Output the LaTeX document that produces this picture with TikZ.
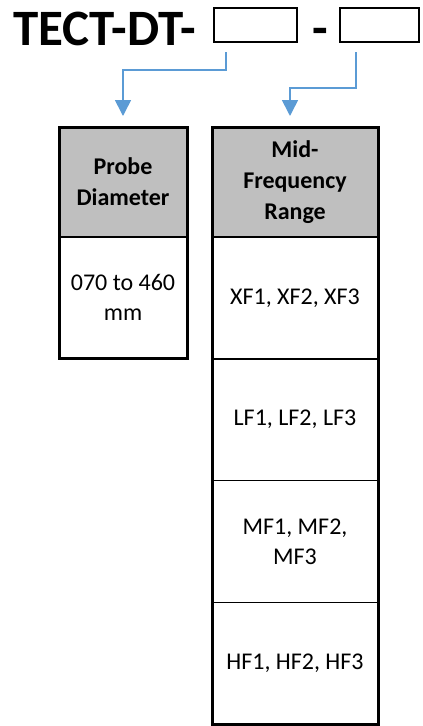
\documentclass[tikz,border=0pt]{standalone}
\usepackage{fontspec}
\setmainfont{Carlito}
\usetikzlibrary{arrows.meta,positioning}
\definecolor{feedblue}{HTML}{5B9BD5}
\definecolor{headgray}{HTML}{BFBFBF}
\begin{document}
\begin{tikzpicture}[x=1pt, y=-1pt,
  slotbox/.style={draw, line width=2pt, minimum width=83pt, minimum height=34pt, inner sep=0pt},
  cell/.style={draw, line width=1.5pt, outer sep=0pt, inner sep=2pt, align=center, font=\fontsize{24}{30}\selectfont},
  headcell/.style={cell, fill=headgray, minimum height=110pt, font=\bfseries\fontsize{24}{31}\selectfont},
  feed/.style={feedblue, line width=1.6pt, -{Triangle[length=16pt,width=16pt]}}]
\useasboundingbox (0,0) rectangle (423,726);
\node[anchor=base west, inner sep=0pt, font=\bfseries\fontsize{51}{55}\selectfont] (code) at (13,45) {TECT-DT-};
\node[slotbox] (slotA) at (255.5,25) {};
\node[anchor=base, inner sep=0pt, font=\bfseries\fontsize{51}{55}\selectfont] (dash) at (320,45) {-};
\node[slotbox, minimum width=79pt] (slotB) at (379.5,25) {};
\node[headcell, minimum width=128pt] (probeHead) at (123,182) {Probe\\Diameter};
\node[cell, minimum width=128pt, minimum height=121pt, below=0pt of probeHead] (probeBody) {070 to 460\\mm};
\node[headcell, minimum width=166pt] (freqHead) at (295,182) {Mid-\\Frequency\\Range};
\node[cell, minimum width=166pt, minimum height=121.75pt, below=0pt of freqHead] (freqX) {XF1, XF2, XF3};
\node[cell, minimum width=166pt, minimum height=121.75pt, below=0pt of freqX] (freqL) {LF1, LF2, LF3};
\node[cell, minimum width=166pt, minimum height=121.75pt, below=0pt of freqL] (freqM) {MF1, MF2,\\MF3};
\node[cell, minimum width=166pt, minimum height=121.75pt, below=0pt of freqM] (freqH) {HF1, HF2, HF3};
\draw[line width=3pt] (probeHead.north west) rectangle (probeBody.south east);
\draw[line width=3pt] (freqHead.north west) rectangle (freqH.south east);
\coordinate (tapA) at ([xshift=-29.5pt, yshift=-9pt]slotA.south);
\coordinate (tapB) at ([xshift=-23.5pt, yshift=-9pt]slotB.south);
\draw[feed] (tapA) -- ++(0,18) -| ([yshift=11pt]probeHead.north);
\draw[feed] (tapB) -- ++(0,36) -| ([xshift=-5pt, yshift=11pt]freqHead.north);
\end{tikzpicture}
\end{document}
